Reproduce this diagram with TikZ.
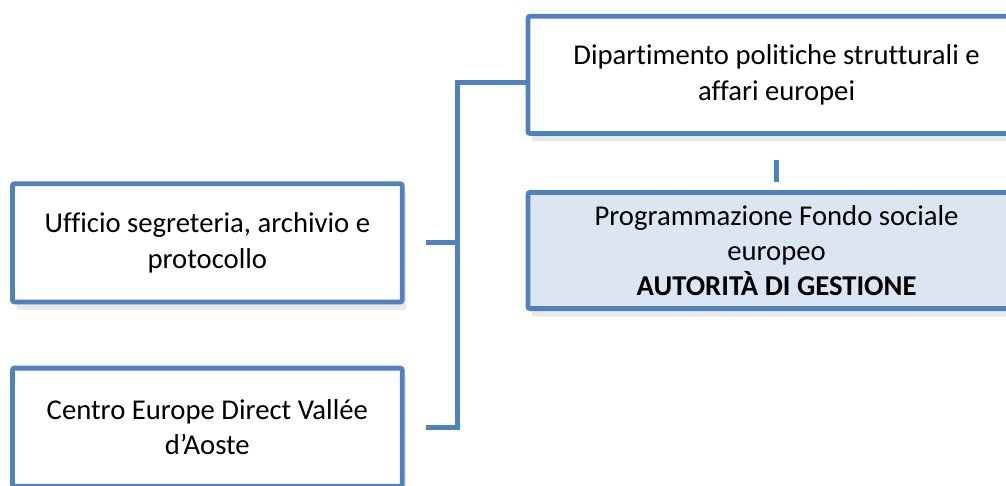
\documentclass[tikz,border=0pt]{standalone}
\usepackage{fontspec}
\setmainfont[Ligatures=NoCommon]{Carlito}
\usepackage{xcolor}
\usepackage{tikz}
\usetikzlibrary{shadows}
\definecolor{unitblue}{HTML}{4F81BD}
\definecolor{unitfill}{HTML}{DCE6F2}
\tikzset{unitbox/.style={shape=rectangle,draw=unitblue,line width=3.6pt,rounded corners=1.5pt,fill=white,align=center,font=\fontsize{21.6}{26.5}\selectfont,drop shadow={shadow xshift=3pt,shadow yshift=-6pt,opacity=0.18}},
  link/.style={draw=unitblue,line width=3.6pt}}

\begin{document}
\begin{tikzpicture}

\useasboundingbox (0in,0in) rectangle (10.48in,-5.06in);

\path (8.09in,-0.78in) node (dipartimento) [unitbox,minimum width=5.18in,minimum height=1.22in]{Dipartimento politiche strutturali e\\affari europei};

\path (8.09in,-2.61in) node (autorita) [unitbox,fill=unitfill,minimum width=5.18in,minimum height=1.21in]{Programmazione Fondo sociale\\europeo\\\textbf{AUTORITÀ DI GESTIONE}};

\path (2.16in,-2.53in) node (segreteria) [unitbox,minimum width=4.06in,minimum height=1.23in]{Ufficio segreteria, archivio e\\protocollo};

\path (2.16in,-4.45in) node (europedirect) [unitbox,minimum width=4.06in,minimum height=1.23in]{Centro Europe Direct Vallée\\d’Aoste};

\coordinate (bus) at (4.77in,-0.86in);

\draw [link] (dipartimento.west |- bus) -- (bus) -- (bus |- europedirect.east) -- ([xshift=15.75pt]europedirect.east);
\draw [link] ([xshift=15.75pt]segreteria.east) -- (segreteria.east -| bus);
\draw [link] ([yshift=-18pt]dipartimento.south) -- ([yshift=6pt]autorita.north);

\end{tikzpicture}
\end{document}
